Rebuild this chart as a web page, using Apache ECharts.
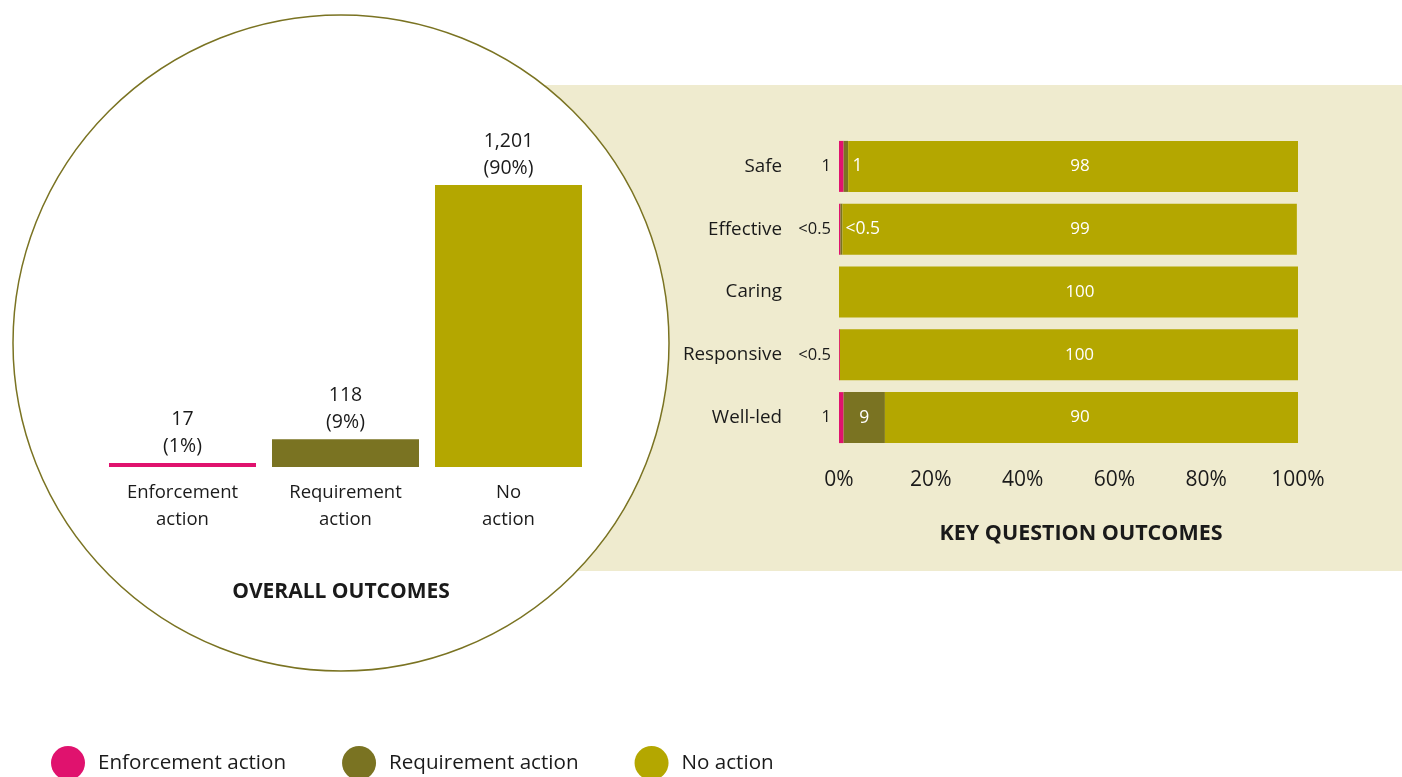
<!DOCTYPE html>
<html>
<head>
<meta charset="utf-8">
<script src="https://cdn.jsdelivr.net/npm/echarts@6/dist/echarts.min.js"></script>
<style>
  html, body { margin: 0; padding: 0; background: #ffffff; }
  #chart { width: 1402px; height: 777px; }
</style>
</head>
<body>
<div id="chart"></div>
<script>
// Overall outcomes (counts and share)
const overallCategories = ['Enforcement\naction', 'Requirement\naction', 'No\naction'];
const overallCounts = [17, 118, 1201];
const overallPct = [1, 9, 90];

// Key question outcomes (% of inspections)
const keyQuestions = ['Safe', 'Effective', 'Caring', 'Responsive', 'Well-led'];
const enforcementPct = [1, 0.3, 0, 0.2, 1];
const requirementPct = [1, 0.45, 0, 0, 9];
const noActionPct = [98, 99, 100, 100, 90];
const enforcementText = ['1', '<0.5', '', '<0.5', '1'];
const requirementText = ['1', '<0.5', '', '', '9'];
const noActionText = ['98', '99', '100', '100', '90'];

const seriesNames = ['Enforcement action', 'Requirement action', 'No action'];
const colors = { enf: '#E0126E', req: '#7A7322', none: '#B4A700' };
const FONT = 'Open Sans';
const INK = '#1a1a1a';

const chart = echarts.init(document.getElementById('chart'));

// white labels inside the requirement segments
const reqData = requirementPct.map((v, i) => ({
  value: v,
  label: {
    show: requirementText[i] !== '',
    formatter: requirementText[i],
    position: v >= 5 ? 'inside' : [v < 0.5 ? 5 : 9, '50%'],
    verticalAlign: 'middle'
  }
}));
// "no action" labels sit at a common position along the axis
const labelAt = 52.5;
const noneData = noActionPct.map((v, i) => {
  const start = enforcementPct[i] + requirementPct[i];
  const frac = (labelAt - start) / v * 100;
  return {
    value: v,
    label: { formatter: noActionText[i], position: [frac + '%', '50%'], align: 'center', verticalAlign: 'middle' }
  };
});
const enfData = enforcementPct.map((v, i) => ({
  value: v,
  label: { show: enforcementText[i] !== '', formatter: enforcementText[i] }
}));

chart.setOption({
  animation: false,
  textStyle: { fontFamily: FONT },
  graphic: [
    { type: 'rect', z: -10, shape: { x: 400, y: 85, width: 1002, height: 486 }, style: { fill: '#EFEBCF' } },
    { type: 'circle', z: -5, shape: { cx: 341, cy: 343, r: 328 }, style: { fill: '#ffffff', stroke: '#7A7322', lineWidth: 1.5 } }
  ],
  title: [
    { text: 'OVERALL OUTCOMES', left: 341, top: 582, textAlign: 'center', padding: 0,
      textStyle: { fontFamily: FONT, fontSize: 21, fontWeight: 'bold', color: INK } },
    { text: 'KEY QUESTION OUTCOMES', left: 1081, top: 523, textAlign: 'center', padding: 0,
      textStyle: { fontFamily: FONT, fontSize: 21.5, fontWeight: 'bold', color: INK } }
  ],
  legend: {
    data: seriesNames,
    left: 51, top: 746, padding: 0,
    icon: 'circle', itemWidth: 34, itemHeight: 34, itemGap: 56,
    textStyle: { fontFamily: FONT, fontSize: 20.6, color: INK, padding: [10, 0, 0, 8] }
  },
  grid: [
    { left: 101, width: 489, top: 185, height: 282 },
    { left: 839, width: 459, top: 135, height: 314 }
  ],
  xAxis: [
    { type: 'category', gridIndex: 0, data: overallCategories,
      axisLine: { show: false }, axisTick: { show: false },
      axisLabel: { margin: 12, fontSize: 18.5, lineHeight: 27, color: INK, fontFamily: FONT } },
    { type: 'value', gridIndex: 1, min: 0, max: 100, interval: 20,
      axisLine: { show: false }, axisTick: { show: false }, splitLine: { show: false },
      axisLabel: { margin: 21, fontSize: 21, color: INK, fontFamily: FONT, formatter: '{value}%' } }
  ],
  yAxis: [
    { type: 'value', gridIndex: 0, min: 0, max: 1201, show: false },
    { type: 'category', gridIndex: 1, data: keyQuestions, inverse: true,
      axisLine: { show: false }, axisTick: { show: false },
      axisLabel: { margin: 57, fontSize: 18.8, color: INK, fontFamily: FONT } }
  ],
  series: [
    {
      type: 'bar', xAxisIndex: 0, yAxisIndex: 0, barWidth: 147,
      data: overallCounts.map((v, i) => ({ value: v, itemStyle: { color: [colors.enf, colors.req, colors.none][i] } })),
      label: {
        show: true, position: 'top', distance: 3, fontSize: 19.5, lineHeight: 27, color: INK, fontFamily: FONT,
        formatter: p => overallCounts[p.dataIndex].toLocaleString('en-GB') + '\n(' + overallPct[p.dataIndex] + '%)'
      }
    },
    {
      name: seriesNames[0], type: 'bar', stack: 'kq', xAxisIndex: 1, yAxisIndex: 1, barWidth: 51,
      itemStyle: { color: colors.enf }, data: enfData,
      label: { show: true, position: 'left', distance: 8, fontSize: 16.5, color: INK, fontFamily: FONT }
    },
    {
      name: seriesNames[1], type: 'bar', stack: 'kq', xAxisIndex: 1, yAxisIndex: 1, barWidth: 51,
      itemStyle: { color: colors.req }, data: reqData,
      label: { show: true, fontSize: 17.5, color: '#ffffff', fontFamily: FONT }
    },
    {
      name: seriesNames[2], type: 'bar', stack: 'kq', xAxisIndex: 1, yAxisIndex: 1, barWidth: 51,
      itemStyle: { color: colors.none }, data: noneData,
      label: { show: true, fontSize: 17, color: '#ffffff', fontFamily: FONT }
    }
  ]
});
</script>
</body>
</html>
